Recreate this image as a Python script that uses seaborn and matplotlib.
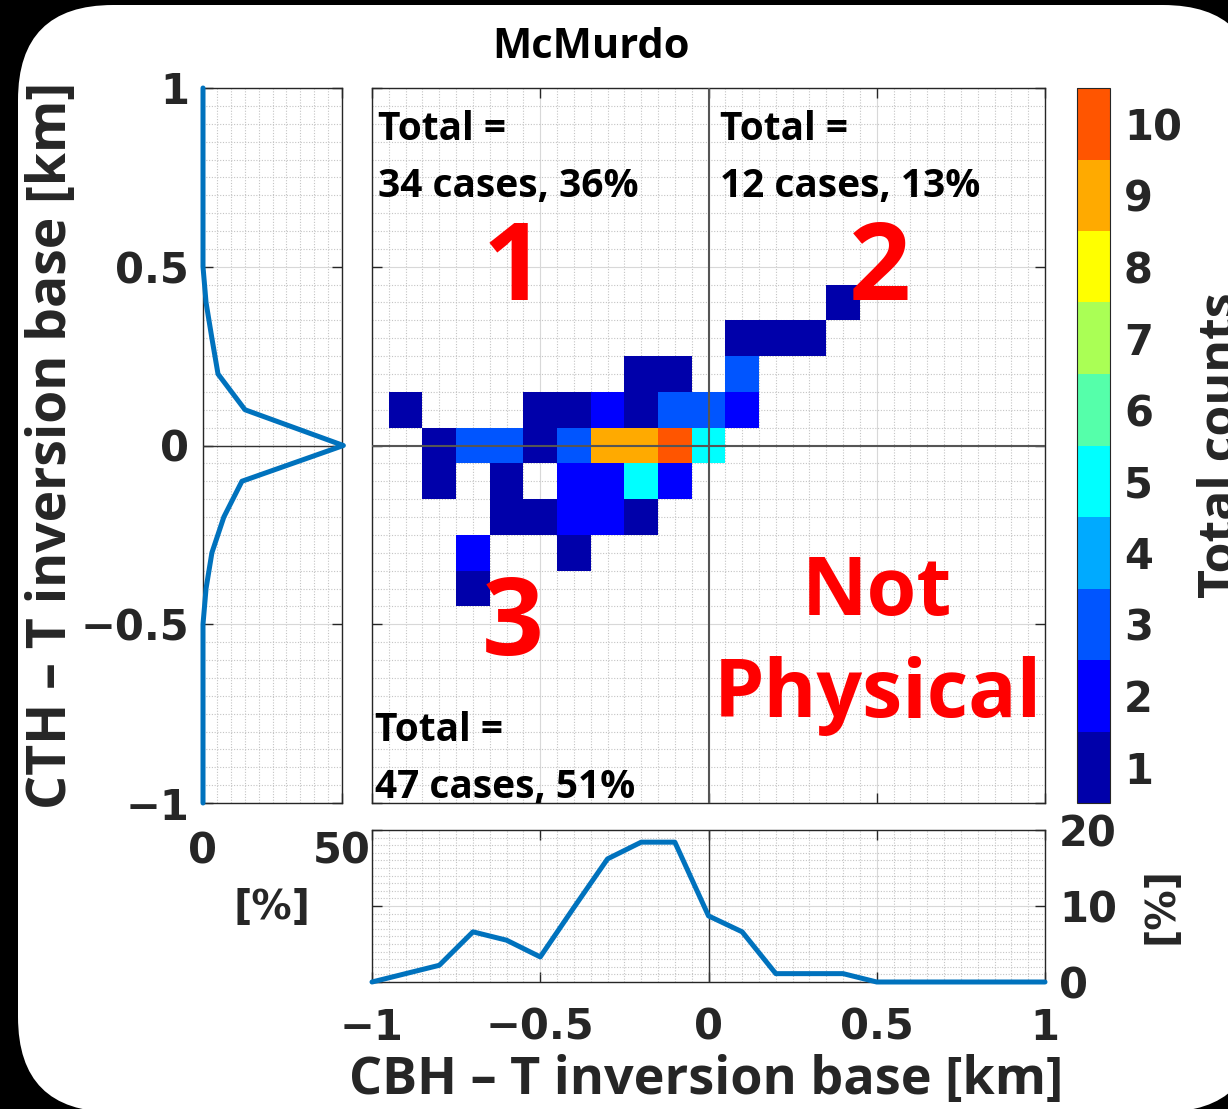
import numpy as np
import pandas as pd
import matplotlib
matplotlib.use("Agg")
import matplotlib.pyplot as plt
from matplotlib.colors import ListedColormap
from matplotlib.patches import FancyBboxPatch
from matplotlib.transforms import IdentityTransform
from matplotlib.ticker import MultipleLocator, NullLocator
from matplotlib.font_manager import FontProperties
import seaborn as sns

# ---- 2-D histogram cells: bin centre (CBH - Tinv, CTH - Tinv) in km and count
cell_x = [0.4,
          0.1, 0.2, 0.3,
          -0.2, -0.1, 0.1,
          -0.9, -0.5, -0.4, -0.3, -0.2, -0.1, 0.0, 0.1,
          -0.8, -0.7, -0.6, -0.5, -0.4, -0.3, -0.2, -0.1, 0.0,
          -0.8, -0.6, -0.4, -0.3, -0.2, -0.1,
          -0.6, -0.5, -0.4, -0.3, -0.2,
          -0.7, -0.4,
          -0.7]
cell_y = [0.4,
          0.3, 0.3, 0.3,
          0.2, 0.2, 0.2,
          0.1, 0.1, 0.1, 0.1, 0.1, 0.1, 0.1, 0.1,
          0.0, 0.0, 0.0, 0.0, 0.0, 0.0, 0.0, 0.0, 0.0,
          -0.1, -0.1, -0.1, -0.1, -0.1, -0.1,
          -0.2, -0.2, -0.2, -0.2, -0.2,
          -0.3, -0.3,
          -0.4]
cell_count = [1,
              1, 1, 1,
              1, 1, 3,
              1, 1, 1, 2, 1, 3, 3, 2,
              1, 3, 3, 1, 3, 9, 9, 10, 5,
              1, 1, 2, 2, 5, 2,
              1, 1, 2, 2, 1,
              2, 1,
              1]

# ---- marginal distributions [%]
cth_levels = [1.0, 0.9, 0.8, 0.7, 0.6, 0.5, 0.4, 0.3, 0.2, 0.1, 0.0,
              -0.1, -0.2, -0.3, -0.4, -0.5, -0.6, -0.7, -0.8, -0.9, -1.0]
cth_pct = [0, 0, 0, 0, 0, 0, 1.1, 3.2, 5.4, 15.1, 50.5,
           14.0, 7.5, 3.2, 1.1, 0, 0, 0, 0, 0, 0]
cbh_levels = [-1.0, -0.9, -0.8, -0.7, -0.6, -0.5, -0.4, -0.3, -0.2, -0.1, 0.0,
              0.1, 0.2, 0.3, 0.4, 0.5, 0.6, 0.7, 0.8, 0.9, 1.0]
cbh_pct = [0, 1.1, 2.2, 6.6, 5.5, 3.3, 9.8, 16.2, 18.4, 18.4, 8.7,
           6.6, 1.1, 1.1, 1.1, 0, 0, 0, 0, 0, 0]

count_ticks = [1, 2, 3, 4, 5, 6, 7, 8, 9, 10]
count_colors = ["#0000AA", "#0000FF", "#0055FF", "#00AAFF", "#00FFFF",
                "#55FFAA", "#AAFF55", "#FFFF00", "#FFAA00", "#FF5500"]
km_ticks = [-1, -0.5, 0, 0.5, 1]
km_labels = ["\u22121", "\u22120.5", "0", "0.5", "1"]
pct_x_ticks = [0, 50]
pct_y_ticks = [0, 10, 20]

quadrant_text = [
    ("Total =", "34 cases, 36%"),
    ("Total =", "12 cases, 13%"),
    ("Total =", "47 cases, 51%"),
]
region_labels = ["1", "2", "3"]

sns.set_style("ticks")
plt.rcParams["font.family"] = ["DejaVu Sans"]

W, H = 1228, 1109
fig = plt.figure(figsize=(W / 100, H / 100), dpi=100, facecolor="black")

# rounded white panel behind everything
panel = FancyBboxPatch((18, -3), 1240, 1107,
                       boxstyle="round,pad=0,rounding_size=95",
                       transform=IdentityTransform(), facecolor="white",
                       edgecolor="none", zorder=-10)
fig.patches.append(panel)


def px_axes(x0, y0, x1, y1):
    ax = fig.add_axes([x0 / W, 1 - y1 / H, (x1 - x0) / W, (y1 - y0) / H])
    ax.set_zorder(1)
    return ax


ax_main = px_axes(372, 88, 1045, 803)
ax_left = px_axes(203, 88, 342, 803)
ax_bot = px_axes(372, 830, 1045, 982)
cax = px_axes(1077, 88, 1110, 803)

TXT = "#262626"
tick_fp = FontProperties(family="DejaVu Sans", weight="bold", size=30)
label_font = ["Open Sans", "DejaVu Sans"]
line_color = "#0072BD"

# ---- main 2-D histogram
df = pd.DataFrame({"cbh": cell_x, "cth": cell_y, "n": cell_count})
edges = np.round(np.arange(-1.05, 1.051, 0.1), 3)
cmap = ListedColormap(count_colors)
sns.histplot(data=df, x="cbh", y="cth", weights="n", bins=[edges, edges],
             cmap=cmap, vmin=0.5, vmax=10.5, cbar=True, cbar_ax=cax,
             ax=ax_main, zorder=2)
ax_main.set_xlim(-1, 1)
ax_main.set_ylim(-1, 1)
ax_main.set_xlabel("")
ax_main.set_ylabel("")


def style_grid(ax, xminor, yminor):
    ax.set_facecolor("white")
    ax.xaxis.set_minor_locator(MultipleLocator(xminor))
    ax.yaxis.set_minor_locator(MultipleLocator(yminor))
    ax.grid(which="minor", color="#c4c4c4", linestyle=(0, (1, 1.5)), linewidth=0.8, zorder=0)
    ax.grid(which="major", color="#d8d8d8", linestyle="-", linewidth=0.8, zorder=0)
    ax.set_axisbelow(True)
    ax.tick_params(which="minor", length=0)
    ax.tick_params(which="major", direction="in", length=7, width=1,
                   color=TXT, top=True, right=True, labelcolor=TXT)
    for s in ax.spines.values():
        s.set_visible(True)
        s.set_color(TXT)
        s.set_linewidth(1)


style_grid(ax_main, 0.05, 0.05)
ax_main.set_xticks(km_ticks)
ax_main.set_yticks(km_ticks)
ax_main.tick_params(labelbottom=False, labelleft=False)
ax_main.axhline(0, color="#555555", lw=1.5, zorder=3)
ax_main.axvline(0, color="#555555", lw=1.5, zorder=3)

# ---- left marginal (CTH - Tinv)
sns.lineplot(x=cth_pct, y=cth_levels, sort=False, estimator=None,
             color=line_color, linewidth=3.6, ax=ax_left, zorder=4, clip_on=False)
ax_left.set_xlim(0, 50)
ax_left.set_ylim(-1, 1)
style_grid(ax_left, 5, 0.05)
ax_left.set_xticks(pct_x_ticks)
ax_left.set_yticks(km_ticks)
ax_left.set_yticklabels(km_labels)
ax_left.tick_params(axis="x", pad=20)
ax_left.tick_params(axis="y", pad=10)
for lab in ax_left.get_xticklabels() + ax_left.get_yticklabels():
    lab.set_fontproperties(tick_fp)
ax_left.axhline(0, color="#333333", lw=1, zorder=3)

# ---- bottom marginal (CBH - Tinv)
sns.lineplot(x=cbh_levels, y=cbh_pct, sort=False, estimator=None,
             color=line_color, linewidth=3.6, ax=ax_bot, zorder=4, clip_on=False)
ax_bot.set_xlim(-1, 1)
ax_bot.set_ylim(0, 20)
style_grid(ax_bot, 0.05, 1)
ax_bot.set_xticks(km_ticks)
ax_bot.set_xticklabels(km_labels)
ax_bot.set_yticks(pct_y_ticks)
ax_bot.tick_params(axis="y", labelleft=False, labelright=True, pad=10)
ax_bot.tick_params(axis="x", pad=18)
for lab in ax_bot.get_xticklabels() + ax_bot.get_yticklabels():
    lab.set_fontproperties(tick_fp)
ax_bot.axvline(0, color="#333333", lw=1, zorder=3)

# ---- colorbar
cb = ax_main.collections[0].colorbar
cb.set_ticks(count_ticks)
cb.outline.set_edgecolor(TXT)
cax.tick_params(direction="in", length=6, color=TXT, labelcolor=TXT, pad=10)
for lab in cax.get_yticklabels():
    lab.set_fontproperties(tick_fp)
cax.yaxis.set_minor_locator(NullLocator())

# ---- labels and annotations
fig.text(591 / W, 1 - 47 / H, "McMurdo", family=label_font, weight="bold",
         size=30, color="black", ha="center", va="center")
fig.text(52 / W, 1 - 445 / H, "CTH \u2013 T inversion base [km]", family=label_font,
         weight="bold", size=38.5, color=TXT, rotation=90, ha="center", va="center")
fig.text(706 / W, 1 - 1080 / H, "CBH \u2013 T inversion base [km]", family=label_font,
         weight="bold", size=37.5, color=TXT, ha="center", va="center")
fig.text(272 / W, 1 - 908 / H, "[%]", family="DejaVu Sans", weight="bold",
         size=29, color=TXT, ha="center", va="center")
fig.text(1162 / W, 1 - 905 / H, "[%]", family="DejaVu Sans", weight="bold",
         size=29, color=TXT, rotation=90, ha="center", va="center")
fig.text(1197 / W, 1 - 445 / H, "Total counts", family=label_font, weight="bold",
         size=36, color=TXT, rotation=90, ha="left", va="center")

txt_pos = [(-0.982, 0.855, 0.695), (0.034, 0.855, 0.695), (-0.991, -0.827, -0.987)]
for (l1, l2), (tx, y1, y2) in zip(quadrant_text, txt_pos):
    ax_main.text(tx, y1, l1, family=label_font, weight="bold", size=28,
                 color="black", va="baseline", ha="left", zorder=5)
    ax_main.text(tx, y2, l2, family=label_font, weight="bold", size=28,
                 color="black", va="baseline", ha="left", zorder=5)

num_pos = [(-0.578, 0.407), (0.509, 0.407), (-0.581, -0.586)]
for lab, (tx, ty) in zip(region_labels, num_pos):
    ax_main.text(tx, ty, lab, family=label_font, weight="bold", size=78,
                 color="#FF0000", ha="center", va="baseline", zorder=5)
ax_main.text(0.50, -0.474, "Not", family=label_font, weight="bold", size=58,
             color="#FF0000", ha="center", va="baseline", zorder=5)
ax_main.text(0.504, -0.76, "Physical", family=label_font, weight="bold", size=58,
             color="#FF0000", ha="center", va="baseline", zorder=5)

fig.savefig("out.png", dpi=100, facecolor="black")
